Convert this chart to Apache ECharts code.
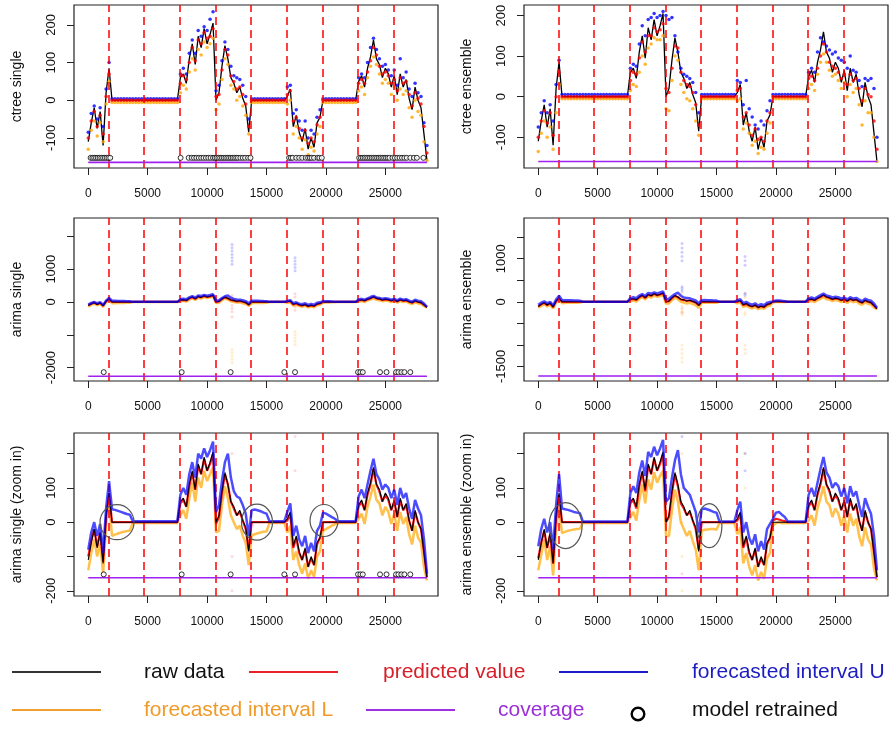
<!DOCTYPE html>
<html>
<head>
<meta charset="utf-8">
<script src="https://cdn.jsdelivr.net/npm/echarts@6/dist/echarts.min.js"></script>
<style>
  html, body { margin: 0; padding: 0; background: #fff; }
  #chart { width: 890px; height: 729px; }
</style>
</head>
<body>
<div id="chart"></div>
<script>
// sampling step of the series (one value every 250 time steps)
var STEP = 250;

// raw data (shared by all panels)
var raw = [-110,-60,-20,-75,-30,-120,20,85,
  0,0,0,0,0,0,0,0,0,0,0,0,0,0,0,0,0,0,0,0,0,0,0,
  60,70,45,110,150,95,170,140,190,150,175,205,
  0,20,90,145,110,60,45,20,35,5,-15,-85,
  0,0,0,0,0,0,0,0,0,0,0,0,
  10,30,-70,-40,-85,-110,-75,-130,-100,-125,-60,-45,
  0,0,0,0,0,0,0,0,0,0,0,0,
  50,65,35,85,115,160,110,95,60,85,70,35,65,15,70,35,55,5,-25,35,0,-20,-90,-160];

// ctree single
var csPred = [-100,-55,-30,-70,-40,-90,10,70,
  0,0,0,0,0,0,0,0,0,0,0,0,0,0,0,0,0,0,0,0,0,0,0,
  45,65,55,100,140,105,160,150,180,165,170,190,
  10,15,80,135,120,65,50,30,35,15,-10,-70,
  0,0,0,0,0,0,0,0,0,0,0,0,
  15,25,-55,-45,-75,-100,-80,-115,-100,-110,-65,-45,
  0,0,0,0,0,0,0,0,0,0,0,0,
  45,55,45,75,105,140,120,90,70,75,65,45,55,25,60,45,50,15,-15,20,5,-10,-70,-140];
var csUpper = [-85,-35,-15,-50,-20,-70,30,100,
  4,4,4,4,4,4,4,4,4,4,4,4,4,4,4,4,4,4,4,4,4,4,4,
  70,85,70,125,160,125,185,170,195,185,215,235,
  25,40,105,155,135,90,65,60,55,40,10,-50,
  4,4,4,4,4,4,4,4,4,4,4,4,
  35,40,-35,-25,-55,-80,-55,-100,-80,-90,-45,-25,
  4,4,4,4,4,4,4,4,4,4,4,4,
  60,70,60,100,140,165,135,110,90,95,80,65,80,40,110,60,75,30,10,45,20,10,-60,-120];
var csLower = [-130,-80,-55,-95,-60,-110,-10,50,
  -6,-6,-6,-6,-6,-6,-6,-6,-6,-6,-6,-6,-6,-6,-6,-6,-6,-6,-6,-6,-6,-6,-6,
  20,40,30,75,110,80,135,120,155,140,150,165,
  -25,-10,55,110,95,40,30,0,10,-15,-40,-90,
  -6,-6,-6,-6,-6,-6,-6,-6,-6,-6,-6,-6,
  -10,0,-90,-70,-100,-130,-105,-145,-125,-135,-90,-70,
  -6,-6,-6,-6,-6,-6,-6,-6,-6,-6,-6,-6,
  25,35,15,60,90,115,95,70,45,55,45,15,35,0,30,15,25,-20,-45,0,-30,-40,-110,-160];

// ctree ensemble
var cePred = [-100,-60,-35,-65,-40,-95,0,60,
  0,0,0,0,0,0,0,0,0,0,0,0,0,0,0,0,0,0,0,0,0,0,0,
  40,60,55,95,135,110,150,150,170,160,165,180,
  20,10,70,125,120,60,40,30,25,10,-20,-70,
  0,0,0,0,0,0,0,0,0,0,0,0,
  15,20,-50,-40,-70,-95,-80,-105,-100,-110,-60,-40,
  0,0,0,0,0,0,0,0,0,0,0,0,
  45,50,40,70,100,130,110,85,75,70,60,45,55,30,55,40,45,20,-10,20,5,0,-60,-130];
var ceUpper = [-75,-40,-10,-40,-20,-60,30,90,
  5,5,5,5,5,5,5,5,5,5,5,5,5,5,5,5,5,5,5,5,5,5,5,
  70,80,75,130,175,150,190,195,205,195,200,210,
  200,190,195,150,110,70,55,50,45,35,10,-40,
  5,5,5,5,5,5,5,5,5,5,5,5,
  40,35,-20,40,-30,-50,-70,-80,-60,-70,-35,-10,
  5,5,5,5,5,5,5,5,5,5,5,5,
  60,70,60,110,145,135,125,115,105,110,95,90,85,70,100,65,60,40,25,45,40,45,20,-100];
var ceLower = [-135,-90,-60,-100,-75,-130,-40,30,
  -5,-5,-5,-5,-5,-5,-5,-5,-5,-5,-5,-5,-5,-5,-5,-5,-5,-5,-5,-5,-5,-5,-5,
  15,30,25,60,100,80,120,130,145,140,140,150,
  -30,-35,40,100,90,30,10,-5,-10,-30,-60,-95,
  -5,-5,-5,-5,-5,-5,-5,-5,-5,-5,-5,-5,
  -10,-5,-80,-65,-90,-120,-110,-140,-125,-130,-90,-65,
  -5,-5,-5,-5,-5,-5,-5,-5,-5,-5,-5,-5,
  20,30,15,55,85,105,85,65,50,55,40,20,35,0,30,10,20,-20,-70,-10,-40,-40,-100,-160];

// arima single
var asPred = [-100,-55,-20,-70,-30,-115,15,85,
  0,0,0,0,0,0,0,0,0,0,0,0,0,0,0,0,0,0,0,0,0,0,0,
  55,65,45,105,145,95,165,140,185,150,170,200,
  -5,15,85,140,110,60,40,20,30,5,-20,-80,
  0,0,0,0,0,0,0,0,0,0,0,0,
  5,25,-75,-45,-90,-110,-80,-130,-105,-125,-65,-45,
  0,0,0,0,0,0,0,0,0,0,0,0,
  45,60,35,80,110,155,110,90,60,80,65,35,60,15,65,35,50,5,-25,30,0,-20,-85,-160];
var asUpper = [-80,-30,0,-40,-5,-90,40,120,
  38,36,33,30,27,24,22,3,3,3,3,3,3,3,3,3,3,3,3,3,3,3,3,
  80,100,80,140,175,130,200,185,215,190,210,235,
  30,50,120,175,200,130,90,75,70,50,25,-40,
  35,37,35,32,28,25,3,3,3,3,3,3,
  30,55,-40,-10,-50,-70,-40,-90,-60,-85,-25,-10,
  28,25,20,15,10,3,3,3,3,3,3,3,
  75,95,70,110,150,185,140,125,95,110,100,70,95,50,100,70,85,40,10,65,40,20,-50,-150];
var asLower = [-140,-90,-50,-100,-60,-150,-10,60,
  -40,-36,-33,-30,-28,-26,-24,-2,-2,-2,-2,-2,-2,-2,-2,-2,-2,-2,-2,-2,-2,-2,-2,
  20,35,10,70,115,60,130,100,150,120,140,160,
  -30,-25,50,105,70,20,0,-20,-10,-40,-60,-125,
  -38,-35,-32,-30,-28,-27,-2,-2,-2,-2,-2,-2,
  -30,-10,-110,-85,-125,-150,-120,-165,-140,-160,-100,-85,
  -25,-20,-15,-10,-6,-2,-2,-2,-2,-2,-2,-2,
  10,25,-5,45,75,110,65,55,20,45,30,-5,25,-25,30,-5,15,-35,-65,-10,-45,-60,-130,-170];

// arima ensemble
var aePred = [-105,-60,-25,-75,-35,-120,10,80,
  0,0,0,0,0,0,0,0,0,0,0,0,0,0,0,0,0,0,0,0,0,0,0,
  55,65,40,105,145,90,165,140,185,150,170,200,
  0,15,85,140,105,55,40,20,30,5,-20,-80,
  0,0,0,0,0,0,0,0,0,0,0,0,
  5,25,-75,-45,-90,-110,-80,-130,-105,-125,-65,-45,
  5,10,8,5,3,0,0,0,0,0,0,0,
  45,60,35,80,110,155,110,90,60,80,65,35,60,15,65,35,50,5,-25,30,0,-20,-85,-160];
var aeUpper = [-70,-20,10,-30,0,-80,50,140,
  40,38,36,33,30,28,26,2,2,2,2,2,2,2,2,2,2,2,2,2,2,2,2,
  85,105,85,145,180,135,205,190,220,195,215,240,
  60,70,130,180,210,140,100,90,80,55,30,-30,
  38,40,37,34,30,28,2,2,2,2,2,2,
  35,60,-30,0,-45,-65,-35,-85,-55,-80,-20,-5,
  10,28,30,22,15,2,2,2,2,2,2,2,
  80,100,75,115,155,190,145,130,100,115,105,75,100,55,105,75,90,50,15,70,45,25,-40,-140];
var aeLower = [-140,-95,-50,-110,-70,-155,-20,40,
  -32,-28,-25,-23,-21,-20,-19,-2,-2,-2,-2,-2,-2,-2,-2,-2,-2,-2,-2,-2,-2,-2,-2,
  15,30,5,65,110,55,125,95,145,115,135,150,
  -40,-40,35,95,60,0,-20,-40,-25,-55,-80,-140,
  -25,-22,-21,-20,-20,-22,-2,-2,-2,-2,-2,-2,
  -35,-15,-120,-90,-130,-155,-125,-170,-145,-165,-105,-90,
  -10,-3,0,-3,-3,-2,-2,-2,-2,-2,-2,-2,
  5,20,-10,40,70,105,60,50,15,40,25,-10,20,-30,25,-10,10,-40,-70,-15,-50,-65,-135,-170];

// faint outlier streaks of the arima intervals [time, value]
var asSpikeU = [[12100,1150],[12100,1250],[12100,1350],[12100,1450],[12100,1550],[12100,1650],[12100,1750],
  [17400,950],[17400,1050],[17400,1150],[17400,1250],[17400,1350]];
var asSpikeL = [[12100,-1450],[12100,-1550],[12100,-1650],[12100,-1750],[12100,-1850],
  [17400,-900],[17400,-1000],[17400,-1100],[17400,-1200],[17400,-1300]];
var asSpikeP = [[12100,200],[12100,100],[12100,-100],[12100,-200],[12100,-300],[12100,-450],
  [17400,250],[17400,150],[17400,-150],[17400,-250]];
var aeSpikeU = [[12100,950],[12100,1050],[12100,1150],[12100,1250],[12100,1350],[12100,250],[12100,300],[12100,350],
  [17400,850],[17400,950],[17400,1050],[17400,150],[17400,200]];
var aeSpikeL = [[12100,-1000],[12100,-1100],[12100,-1200],[12100,-1300],[12100,-1400],[12100,-200],[12100,-250],[12100,-300],
  [12100,-100],[12100,0],[12100,100],[12100,200],
  [17400,-1000],[17400,-1100],[17400,-1200],[17400,-250],[17400,-300],[17400,-50],[17400,100],[17400,200]];
var aeSpikeP = [[12100,-150],[12100,-250],[17400,-100]];

// model retrained times
var csRetrain = [200,350,500,650,800,950,1100,1250,1400,1550,1700,1850,
  7770,8450,8700,8900,9100,9300,9500,9700,9900,10100,10300,10500,10650,10800,10950,11100,11250,11400,
  11550,11700,11850,12000,12150,12300,12450,12600,12800,13000,13200,13450,13650,
  16900,17050,17200,17500,17750,18000,18300,18500,18650,18800,19000,19300,19450,19650,
  22800,22950,23100,23250,23400,23550,23700,23850,24000,24150,24300,24450,24600,24750,24900,
  25050,25200,25350,25600,25800,26000,26200,26400,26600,26800,27100,27400,27650,28200];
var asRetrain = [1300,7860,11980,16500,17400,22700,22900,23100,24550,25100,25900,26100,26350,26600,27100];

// vertical dashed lines (window boundaries)
var boundaries = [1730,4700,7700,10700,13700,16700,19700,22700,25700];

// highlighted transients in the zoom-in panels: [time, value]
var asZoomRings = [[2420, 0], [14200, 0], [19840, 5]];
var aeZoomRings = [[2300, -10], [14400, -10]];

var xTicks = [0,5000,10000,15000,20000,25000];
var RED = '#ff0000', BLUE = '#0000ff', ORANGE = '#ffa500', PURPLE = '#a020f0';
var FONT = '"Liberation Sans", Arial, Helvetica, sans-serif';

var timeGrid = raw.map(function (v, i) { return i * STEP; });
function pairs(vals) { return vals.map(function (v, i) { return [timeGrid[i], v]; }); }
function plain(v) { return String(v); }

var panels = [
  { name: 'ctree single', kind: 'ctree', left: 74, top: 5, pred: csPred, up: csUpper, lo: csLower,
    yMin: -180, yMax: 253, yTicks: [-100,0,100,200], yLabels: [-100,0,100,200], cov: -165, retrain: csRetrain, retrainY: -153 },
  { name: 'ctree ensemble', kind: 'ctree', left: 524, top: 5, pred: cePred, up: ceUpper, lo: ceLower,
    yMin: -176, yMax: 226, yTicks: [-100,0,100,200], yLabels: [-100,0,100,200], cov: -160 },
  { name: 'arima single', kind: 'arima', left: 74, top: 218, pred: asPred, up: asUpper, lo: asLower,
    spU: asSpikeU, spL: asSpikeL, spP: asSpikeP,
    yMin: -2410, yMax: 2560, yTicks: [-2000,-1000,0,1000,2000], yLabels: [-2000,0,1000], cov: -2263, retrain: asRetrain, retrainY: -2140 },
  { name: 'arima ensemble', kind: 'arima', left: 524, top: 218, pred: aePred, up: aeUpper, lo: aeLower,
    spU: aeSpikeU, spL: aeSpikeL, spP: aeSpikeP,
    yMin: -1838, yMax: 1944, yTicks: [-1500,-1000,-500,0,500,1000,1500], yLabels: [-1500,0,1000], cov: -1722 },
  { name: 'arima single (zoom in)', kind: 'arima', left: 74, top: 433, pred: asPred, up: asUpper, lo: asLower,
    spU: asSpikeU, spL: asSpikeL, spP: asSpikeP, rings: asZoomRings, ringR: [[17, 17.5], [15.5, 18], [14, 16]],
    yMin: -215, yMax: 260, yTicks: [-200,-100,0,100,200], yLabels: [-200,0,100], cov: -162, retrain: asRetrain, retrainY: -152 },
  { name: 'arima ensemble (zoom in)', kind: 'arima', left: 524, top: 433, pred: aePred, up: aeUpper, lo: aeLower,
    spU: aeSpikeU, spL: aeSpikeL, spP: aeSpikeP, rings: aeZoomRings, ringR: [[16.5, 23], [12.5, 22]],
    yMin: -215, yMax: 260, yTicks: [-200,-100,0,100,200], yLabels: [-200,0,100], cov: -162 }
];

var grids = [], xAxes = [], yAxes = [], series = [];

panels.forEach(function (p, k) {
  grids.push({ left: p.left, top: p.top, width: 364, height: 163, show: true,
    borderColor: '#222', borderWidth: 1.2, backgroundColor: 'transparent' });
  xAxes.push({
    gridIndex: k, type: 'value', min: -1200, max: 29430,
    axisLine: { show: false, onZero: false }, splitLine: { show: false },
    axisTick: { show: true, length: 7, customValues: xTicks, lineStyle: { color: '#222', width: 1 } },
    axisLabel: { customValues: xTicks, formatter: plain, fontSize: 12, color: '#111', margin: 20, fontFamily: FONT }
  });
  yAxes.push({
    gridIndex: k, type: 'value', min: p.yMin, max: p.yMax,
    axisLine: { show: false, onZero: false }, splitLine: { show: false },
    axisTick: { show: true, length: 7, customValues: p.yTicks, lineStyle: { color: '#222', width: 1 } },
    axisLabel: { customValues: p.yLabels, formatter: plain, rotate: 90, fontSize: 13, color: '#111', margin: 16, fontFamily: FONT },
    name: p.name, nameLocation: 'middle', nameGap: 50, nameRotate: 90,
    nameTextStyle: { fontSize: 14, color: '#111', fontFamily: FONT }
  });

  var c = { xAxisIndex: k, yAxisIndex: k, silent: true, animation: false };
  function merge(o) { for (var key in c) o[key] = c[key]; return o; }

  if (p.kind === 'ctree') {
    series.push(merge({ type: 'line', data: pairs(raw), showSymbol: false,
      lineStyle: { color: '#000', width: 1.3 }, z: 2 }));
    series.push(merge({ type: 'scatter', data: pairs(p.lo), symbolSize: 3.5, itemStyle: { color: ORANGE }, z: 3 }));
    series.push(merge({ type: 'scatter', data: pairs(p.up), symbolSize: 3.5, itemStyle: { color: BLUE }, z: 3 }));
    series.push(merge({ type: 'scatter', data: pairs(p.pred), symbolSize: 3.5, itemStyle: { color: RED }, z: 4 }));
  } else {
    series.push(merge({ type: 'scatter', data: p.spL, symbolSize: 3, itemStyle: { color: ORANGE, opacity: 0.2 }, z: 1 }));
    series.push(merge({ type: 'scatter', data: p.spU, symbolSize: 3, itemStyle: { color: BLUE, opacity: 0.2 }, z: 1 }));
    series.push(merge({ type: 'scatter', data: p.spP, symbolSize: 3, itemStyle: { color: RED, opacity: 0.15 }, z: 1 }));
    series.push(merge({ type: 'line', data: pairs(p.lo), showSymbol: false,
      lineStyle: { color: ORANGE, width: 2.5, opacity: 0.7 }, z: 3 }));
    series.push(merge({ type: 'line', data: pairs(p.pred), showSymbol: false,
      lineStyle: { color: RED, width: 2.2, opacity: 0.9 }, z: 4 }));
    series.push(merge({ type: 'line', data: pairs(raw), showSymbol: false,
      lineStyle: { color: '#000', width: 1.1 }, z: 4.5 }));
    series.push(merge({ type: 'line', data: pairs(p.up), showSymbol: false,
      lineStyle: { color: BLUE, width: 2.5, opacity: 0.7 }, z: 5 }));
  }

  // coverage line + window boundaries
  series.push(merge({
    type: 'line', data: [[0, p.cov], [timeGrid[timeGrid.length - 1], p.cov]], showSymbol: false,
    lineStyle: { color: PURPLE, width: 1.6 }, z: 6,
    markLine: {
      silent: true, symbol: 'none', label: { show: false }, animation: false,
      lineStyle: { color: RED, type: [8, 5], width: 1.5 },
      data: boundaries.map(function (b) { return { xAxis: b }; })
    }
  }));

  if (p.retrain) {
    series.push(merge({
      type: 'scatter', symbol: 'circle', symbolSize: 5,
      data: p.retrain.map(function (t) { return [t, p.retrainY]; }),
      itemStyle: { color: '#fff', borderColor: '#000', borderWidth: 1 }, z: 7
    }));
  }
});

// legend drawn at the bottom
var legendRows = [672, 710];
function lgLine(x1, x2, y, color) {
  return { type: 'line', shape: { x1: x1, y1: y, x2: x2, y2: y }, style: { stroke: color, lineWidth: 1.8 } };
}
function lgText(x, y, text, color) {
  return { type: 'text', x: x, y: y, style: { text: text, fill: color, font: '21px ' + FONT, textVerticalAlign: 'middle' } };
}
var graphics = [
  lgLine(12, 101, legendRows[0], '#333'), lgText(144, legendRows[0], 'raw data', '#111'),
  lgLine(249, 338, legendRows[0], '#e8202a'), lgText(383, legendRows[0], 'predicted value', '#d81e28'),
  lgLine(559, 648, legendRows[0], '#1c1cc8'), lgText(692, legendRows[0], 'forecasted interval U', '#1c1cc0'),
  lgLine(12, 101, legendRows[1], '#f0a030'), lgText(144, legendRows[1], 'forecasted interval L', '#f09a28'),
  lgLine(366, 455, legendRows[1], '#a030e0'), lgText(498, legendRows[1], 'coverage', '#9a30d6'),
  { type: 'circle', shape: { cx: 638, cy: 714, r: 6.3 }, style: { fill: 'none', stroke: '#000', lineWidth: 2.4 } },
  lgText(692, legendRows[1], 'model retrained', '#111')
];

var chart = echarts.init(document.getElementById('chart'));
chart.setOption({
  backgroundColor: '#fff',
  animation: false,
  grid: grids,
  xAxis: xAxes,
  yAxis: yAxes,
  series: series,
  graphic: graphics
});

// gray rings around the transients, placed through the axes
panels.forEach(function (p, k) {
  if (!p.rings) return;
  p.rings.forEach(function (r, j) {
    var pt = chart.convertToPixel({ gridIndex: k }, r);
    graphics.push({
      type: 'ellipse', z: 100,
      shape: { cx: pt[0], cy: pt[1], rx: p.ringR[j][0], ry: p.ringR[j][1] },
      style: { fill: 'none', stroke: '#555', lineWidth: 1.2 }
    });
  });
});
chart.setOption({ graphic: graphics });
</script>
</body>
</html>
